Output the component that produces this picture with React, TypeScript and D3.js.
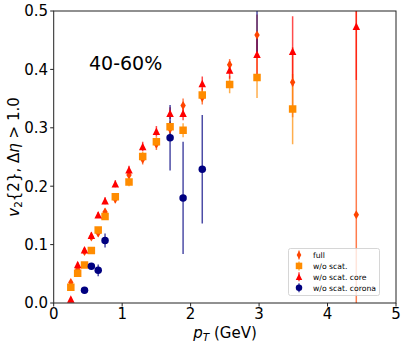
import React from 'react';
import * as d3 from 'd3';

// pT bin centres (GeV)
const pt = [0.25, 0.35, 0.45, 0.55, 0.65, 0.75, 0.9, 1.1, 1.3, 1.5, 1.7, 1.89, 2.17, 2.57, 2.97, 3.49, 4.42];

// full
const fullV = [0.035, 0.058, 0.088, 0.113, 0.12, 0.156, 0.178, 0.219, 0.246, 0.272, 0.298, 0.338, 0.352, 0.408, 0.459, 0.378, 0.151];
const fullE = [0.004, 0.004, 0.005, 0.005, 0.006, 0.006, 0.007, 0.008, 0.009, 0.01, 0.012, 0.012, 0.012, 0.01, 0.035, 0.06, 0.38];

// w/o scat.
const noScatV = [0.027, 0.051, 0.065, 0.09, 0.125, 0.148, 0.182, 0.207, 0.251, 0.276, 0.302, 0.296, 0.356, 0.374, 0.386, 0.332, null];
const noScatE = [0.004, 0.004, 0.004, 0.005, 0.005, 0.006, 0.006, 0.007, 0.008, 0.009, 0.01, 0.012, 0.012, 0.015, 0.035, 0.06, null];

// w/o scat. core
const coreV = [0.007, 0.066, 0.091, 0.116, 0.151, 0.175, 0.204, 0.228, 0.268, 0.294, 0.325, 0.325, 0.376, 0.399, 0.426, 0.431, 0.474];
const coreE = [0.003, 0.004, 0.004, 0.005, 0.005, 0.006, 0.006, 0.007, 0.008, 0.009, 0.01, 0.012, 0.012, 0.015, 0.035, 0.06, 0.092];

// w/o scat. corona
const coronaV = [null, null, 0.022, 0.063, 0.056, 0.107, null, null, null, null, 0.283, 0.18, 0.229, null, 0.6, null, null];
const coronaE = [null, null, 0.004, 0.005, 0.01, 0.012, null, null, null, null, 0.056, 0.096, 0.093, null, 0.17, null, null];

const xTicks = [0, 1, 2, 3, 4, 5];
const yTicks = [0, 0.1, 0.2, 0.3, 0.4, 0.5];

const series = [
  { label: 'full', vals: fullV, errs: fullE, color: '#ff4500', marker: 'diamond' },
  { label: 'w/o scat.', vals: noScatV, errs: noScatE, color: '#ff8c00', marker: 'square' },
  { label: 'w/o scat. core', vals: coreV, errs: coreE, color: '#ff0000', marker: 'triangle' },
  { label: 'w/o scat. corona', vals: coronaV, errs: coronaE, color: '#000080', marker: 'circle' },
];

const W = 407, H = 348;
const left = 53.7, right = 396, top = 11, bottom = 303;
const font = 'DejaVu Sans, sans-serif';

function markerPath(kind: string, s: number) {
  const h = s / 2;
  if (kind === 'diamond') return `M0,${-h * 1.2}L${0.72 * h},0L0,${h * 1.2}L${-0.72 * h},0Z`;
  if (kind === 'square') return `M${-h},${-h}h${s}v${s}h${-s}Z`;
  if (kind === 'triangle') return `M0,${-h}L${h},${h}L${-h},${h}Z`;
  return d3.symbol(d3.symbolCircle, Math.PI * h * h)() as string;
}

export default function App() {
  const x = d3.scaleLinear().domain([0, 5]).range([left, right]);
  const y = d3.scaleLinear().domain([0, 0.5]).range([bottom, top]);
  const ms = 7.5;

  return (
    <svg width={W} height={H} style={{ position: 'absolute', left: 0, top: 0, background: '#fff' }} fontFamily={font}>
      <defs>
        <clipPath id="plot">
          <rect x={left} y={top} width={right - left} height={bottom - top} />
        </clipPath>
      </defs>

      <g clipPath="url(#plot)">
        {/* error bars below all markers */}
        {series.map((s) =>
          pt.map((p, i) => {
            const v = s.vals[i], e = s.errs[i];
            if (v == null || e == null) return null;
            return (
              <line key={s.label + 'e' + i} x1={x(p)} x2={x(p)} y1={y(v - e)} y2={y(v + e)}
                stroke={s.color} strokeOpacity={0.7} strokeWidth={1.5} />
            );
          })
        )}
        {series.map((s) =>
          pt.map((p, i) => {
            const v = s.vals[i];
            if (v == null) return null;
            return (
              <path key={s.label + 'm' + i} d={markerPath(s.marker, ms)}
                transform={`translate(${x(p)},${y(v)})`} fill={s.color} />
            );
          })
        )}
      </g>

      {/* frame */}
      <rect x={left} y={top} width={right - left} height={bottom - top} fill="none" stroke="#222" strokeWidth={1} />

      {/* x axis */}
      {xTicks.map((t) => (
        <g key={'x' + t}>
          <line x1={x(t)} x2={x(t)} y1={bottom} y2={bottom + 3.5} stroke="#222" />
          <text x={x(t)} y={319} fontSize={15} textAnchor="middle" fill="#000">{t}</text>
        </g>
      ))}
      {/* y axis */}
      {yTicks.map((t) => (
        <g key={'y' + t}>
          <line x1={left - 3.5} x2={left} y1={y(t)} y2={y(t)} stroke="#222" />
          <text x={48} y={y(t) + 5.4} fontSize={15} textAnchor="end" fill="#000">{t.toFixed(1)}</text>
        </g>
      ))}

      <text x={225} y={338} fontSize={15} textAnchor="middle">
        <tspan fontStyle="italic">p</tspan>
        <tspan fontStyle="italic" fontSize={10.5} dy={3}>T</tspan>
        <tspan dy={-3}> (GeV)</tspan>
      </text>

      <text transform={`translate(19,${(top + bottom) / 2}) rotate(-90)`} fontSize={15} textAnchor="middle">
        <tspan fontStyle="italic">v</tspan>
        <tspan fontSize={10.5} dy={3}>2</tspan>
        <tspan dy={-3}>{'{2},  Δ'}</tspan>
        <tspan fontStyle="italic">η</tspan>
        <tspan>{' > 1.0'}</tspan>
      </text>

      <text x={89} y={70} fontSize={19}>40-60%</text>

      {/* legend */}
      <g>
        <rect x={288.5} y={248.5} width={91} height={47} rx={2} fill="#fff" fillOpacity={0.8} stroke="#ccc" strokeWidth={0.8} />
        {series.map((s, i) => {
          const cy = 255 + i * 10.9;
          return (
            <g key={'lg' + i}>
              <line x1={299} x2={299} y1={cy - 4.5} y2={cy + 4.5} stroke={s.color} strokeOpacity={0.7} strokeWidth={1.5} />
              <path d={markerPath(s.marker, 6.5)} transform={`translate(299,${cy})`} fill={s.color} />
              <text x={313} y={cy + 2.8} fontSize={7.7} fill="#000">{s.label}</text>
            </g>
          );
        })}
      </g>
    </svg>
  );
}
